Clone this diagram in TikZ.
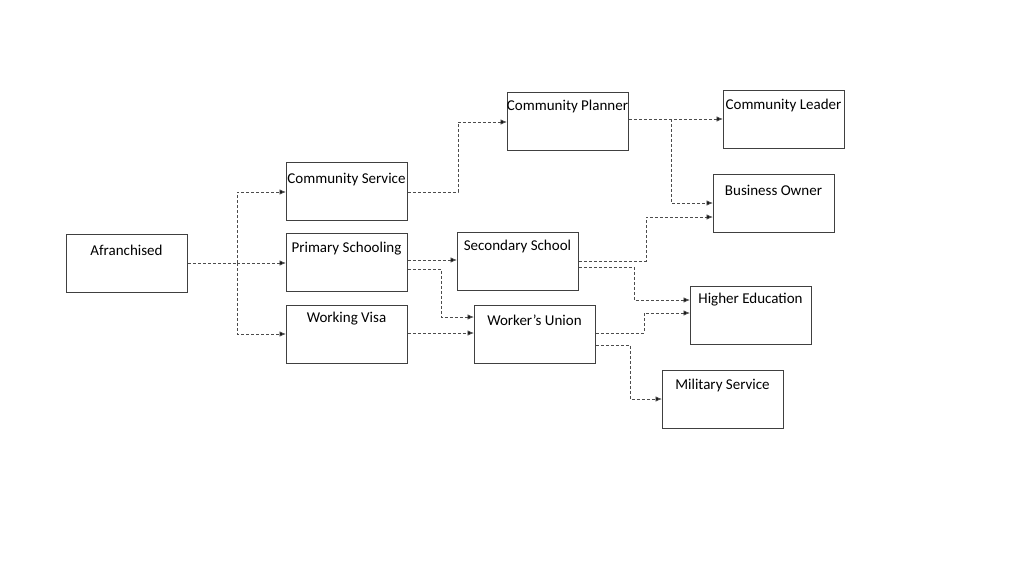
\documentclass[tikz,border=0pt]{standalone}
\usepackage{fontspec}
\setmainfont{Carlito}
\usetikzlibrary{arrows.meta}
\begin{document}
\begin{tikzpicture}[x=1pt,y=-1pt,
  box/.style={draw=black!75,line width=0.9pt,minimum width=121pt,minimum height=58pt,inner sep=0pt,anchor=north west},
  lbl/.style={font=\fontsize{15}{17}\selectfont,inner sep=0pt,anchor=center},
  conn/.style={draw=black!70,line width=0.9pt,dash pattern=on 3pt off 2pt},
  arr/.style={conn,-{Latex[length=6.5pt,width=5.5pt,fill=black]}}]
\useasboundingbox (0,0) rectangle (1024,576);
\fill[white] (0,0) rectangle (1024,576);
% boxes
\node[box] (af) at (66,234) {};
\node[box] (cs) at (286,162) {};
\node[box] (ps) at (286,233) {};
\node[box] (wv) at (286,305) {};
\node[box] (cp) at (507,92) {};
\node[box] (ss) at (457,232) {};
\node[box] (wu) at (474,305) {};
\node[box] (cl) at (723,90) {};
\node[box] (bo) at (713,174) {};
\node[box] (he) at (690,286) {};
\node[box] (ms) at (662,370) {};
% labels
\node[lbl] (aft) at (126.5,250) {Afranchised};
\node[lbl] (cst) at (346.5,180) {Community Service};
\node[lbl] (pst) at (346.5,249) {Primary Schooling};
\node[lbl] (wvt) at (346.5,319) {Working Visa};
\node[lbl] (cpt) at (567.5,106) {Community Planner};
\node[lbl] (sst) at (517.5,246) {Secondary School};
\node[lbl] (wut) at (534.5,320) {Worker’s Union};
\node[lbl] (clt) at (783.5,105) {Community Leader};
\node[lbl] (bot) at (773.5,190) {Business Owner};
\node[lbl] (het) at (750.5,300) {Higher Education};
\node[lbl] (mst) at (722.5,385) {Military Service};
% junction coordinates
\coordinate (j0) at (237,263);
% connectors
\draw[conn] (af.east |- j0) -- (j0);
\draw[arr] (j0) |- (cs.west |- 0,192);
\draw[arr] (j0) -- (ps.west |- 0,263);
\draw[arr] (j0) |- (wv.west |- 0,334);
\draw[arr] (cs.east |- 0,192) -- (458,192) |- (cp.west |- 0,122);
\draw[arr] (ps.east |- 0,260) -- (ss.west |- 0,260);
\draw[arr] (ps.east |- 0,269) -- (441,269) |- (wu.west |- 0,317);
\draw[arr] (wv.east |- 0,333) -- (wu.west |- 0,333);
\draw[arr] (cp.east |- 0,119) -- (cl.west |- 0,119);
\draw[arr] (671,119) |- (bo.west |- 0,203);
\draw[arr] (ss.east |- 0,261) -- (646,261) |- (bo.west |- 0,217);
\draw[arr] (ss.east |- 0,267) -- (634,267) |- (he.west |- 0,300);
\draw[arr] (wu.east |- 0,333) -- (644,333) |- (he.west |- 0,313);
\draw[arr] (wu.east |- 0,345) -- (630,345) |- (ms.west |- 0,399);
\end{tikzpicture}
\end{document}
